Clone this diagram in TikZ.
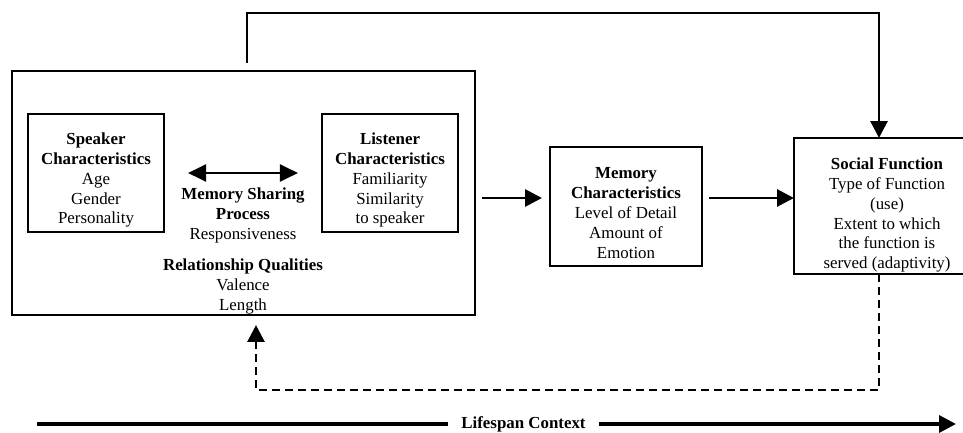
\documentclass[tikz,border=0pt]{standalone}
\usepackage{fontspec}
\setmainfont{Liberation Serif}
\usetikzlibrary{arrows.meta}

\begin{document}
\begin{tikzpicture}[x=0.025cm, y=-0.025cm,
  every node/.style={font=\fontsize{12pt}{14.2pt}\selectfont, align=center, outer sep=0pt, inner sep=0pt},
  box/.style={draw, line width=1.7pt},
  arr/.style={line width=2.1pt, -{Triangle[length=0.42cm, width=0.42cm]}},
  dbl/.style={line width=2.1pt, {Triangle[length=0.45cm, width=0.42cm]}-{Triangle[length=0.45cm, width=0.42cm]}}]
\useasboundingbox (0,0) rectangle (963,433);

\node[box, minimum width=11.575cm, minimum height=6.1cm] (ctx) at (243.5,193) {};
\node[box, minimum width=3.4cm, minimum height=2.95cm] (spk) at (96,173) {};
\node (spktxt) at (96,180) {\textbf{Speaker}\\\textbf{Characteristics}\\Age\\Gender\\Personality};
\node[box, minimum width=3.4cm, minimum height=2.95cm] (lst) at (390,173) {};
\node (lsttxt) at (390,180) {\textbf{Listener}\\\textbf{Characteristics}\\Familiarity\\Similarity\\to speaker};
\node (msp) at (243,215) {\textbf{Memory Sharing}\\\textbf{Process}\\Responsiveness};
\node (rel) at (243,286) {\textbf{Relationship Qualities}\\Valence\\Length};
\node[box, minimum width=3.8cm, minimum height=2.975cm] (mem) at (626,206.5) {};
\node (memtxt) at (626,213) {\textbf{Memory}\\\textbf{Characteristics}\\Level of Detail\\Amount of\\Emotion};
\node[box, minimum width=4.65cm, minimum height=3.4cm] (soc) at (887,206) {};
\node (soctxt) at (887,215) {\textbf{Social Function}\\Type of Function\\(use)\\Extent to which\\the function is\\served (adaptivity)};
\node[font=\fontsize{12pt}{14.2pt}\selectfont\bfseries, inner sep=0.33cm] (life) at (523.5,424) {Lifespan Context};

\coordinate (top) at (247,63);
\coordinate (fb) at (879,13);
\coordinate (db) at (256,390);
\coordinate (ls) at (37,424);
\coordinate (le) at (956,424);

\draw[dbl, shorten <=0.6cm, shorten >=0.6cm] (spk.east |- 0,173) -- (lst.west |- 0,173);
\draw[arr, shorten <=0.18cm, shorten >=0.2cm] (ctx.east |- 0,198) -- (mem.west |- 0,198);
\draw[arr, shorten <=0.18cm] (mem.east |- 0,198) -- (soc.west |- 0,198);
\draw[arr] (top) |- (fb) -- (fb |- soc.north);
\draw[arr, dash pattern=on 0.2cm off 0.125cm, shorten >=0.25cm] (fb |- soc.south) |- (db) -- (db |- ctx.south);
\draw[line width=2.3pt] (ls) -- (life.west);
\draw[arr, line width=2.3pt] (life.east) -- (le);
\end{tikzpicture}
\end{document}
